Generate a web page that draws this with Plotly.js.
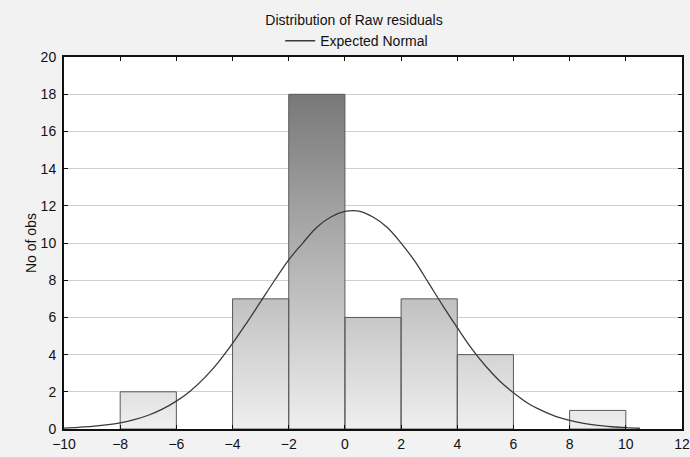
<!DOCTYPE html>
<html>
<head>
<meta charset="utf-8">
<script src="https://cdn.plot.ly/plotly-3.0.1.min.js"></script>
<style>html,body{margin:0;padding:0;background:#f2f2f2;}#chart{width:690px;height:457px;}</style>
</head>
<body>
<div id="chart"></div>
<script>
// Histogram bins (left edges, right edges) and counts
const binStart = [-8, -4, -2, 0, 2, 4, 8];
const binEnd   = [-6, -2, 0, 2, 4, 6, 10];
const counts   = [2, 7, 18, 6, 7, 4, 1];

// Expected normal curve
const curveX = [-10,-9.5,-9,-8.5,-8,-7.5,-7,-6.5,-6,-5.5,-5,-4.5,-4,-3.5,-3,-2.5,-2,-1.5,-1,-0.5,0,0.5,1,1.5,2,2.5,3,3.5,4,4.5,5,5.5,6,6.5,7,7.5,8,8.5,9,9.5,10,10.5];
const curveY = [0.05,0.09,0.14,0.22,0.33,0.5,0.74,1.07,1.5,2.05,2.75,3.6,4.6,5.7,6.85,8.0,9.1,10.0,10.85,11.4,11.7,11.72,11.4,10.85,10.0,9.0,7.8,6.6,5.45,4.35,3.4,2.6,1.95,1.4,1.0,0.68,0.47,0.3,0.19,0.12,0.07,0.04];

const xTicks = [-10,-8,-6,-4,-2,0,2,4,6,8,10,12];
const yTicks = [0,2,4,6,8,10,12,14,16,18,20];

// Build bar outlines as closed polygons from bin data
const px = [], py = [];
for (let i = 0; i < counts.length; i++) {
  px.push(binStart[i], binStart[i], binEnd[i], binEnd[i], binStart[i], null);
  py.push(0, counts[i], counts[i], 0, 0, null);
}

const bars = {
  type: 'scatter', mode: 'lines', x: px, y: py,
  fill: 'toself',
  fillgradient: {type: 'vertical', colorscale: [[0, '#efefef'], [1, '#787878']], start: 0, stop: 18},
  line: {color: '#5a5a5a', width: 1},
  showlegend: false, hoverinfo: 'skip'
};

const curve = {
  type: 'scatter', mode: 'lines', x: curveX, y: curveY,
  line: {color: '#3a3a3a', width: 1.3, shape: 'spline'},
  name: 'Expected Normal', showlegend: true
};

const fam = '"Liberation Sans", Arial, sans-serif';
const font = {family: fam, size: 14, color: '#111'};

const layout = {
  width: 690, height: 457,
  margin: {l: 64, r: 8, t: 57, b: 28},
  paper_bgcolor: '#f2f2f2', plot_bgcolor: '#ffffff',
  font: font,
  title: {text: 'Distribution of Raw residuals', x: 0.513, xanchor: 'center', y: 0.955, yanchor: 'middle', xref: 'container', yref: 'container', font: {family: fam, size: 14, color: '#111'}},
  showlegend: true,
  legend: {orientation: 'h', xref: 'container', yref: 'container', x: 0.517, xanchor: 'center', y: 0.91, yanchor: 'middle', bgcolor: 'rgba(0,0,0,0)', font: {family: fam, size: 14, color: '#111'}, itemwidth: 30},
  xaxis: {range: [-10, 12], tickvals: xTicks, ticks: 'inside', ticklen: 4, tickcolor: '#111', showgrid: false, zeroline: false, showline: true, linecolor: '#111', linewidth: 2, mirror: 'ticks', tickfont: font, ticklabelstandoff: 1},
  yaxis: {range: [0, 20], tickvals: yTicks, ticks: 'inside', ticklen: 4, tickcolor: '#111', showgrid: true, gridcolor: '#cfcfcf', gridwidth: 1, zeroline: false, showline: true, linecolor: '#111', linewidth: 2, mirror: 'ticks', tickfont: font, ticklabelstandoff: 3, title: {text: 'No of obs', font: {family: fam, size: 14, color: '#111'}, standoff: 1}}
};

Plotly.newPlot('chart', [bars, curve], layout, {displayModeBar: false, staticPlot: true});
</script>
</body>
</html>
